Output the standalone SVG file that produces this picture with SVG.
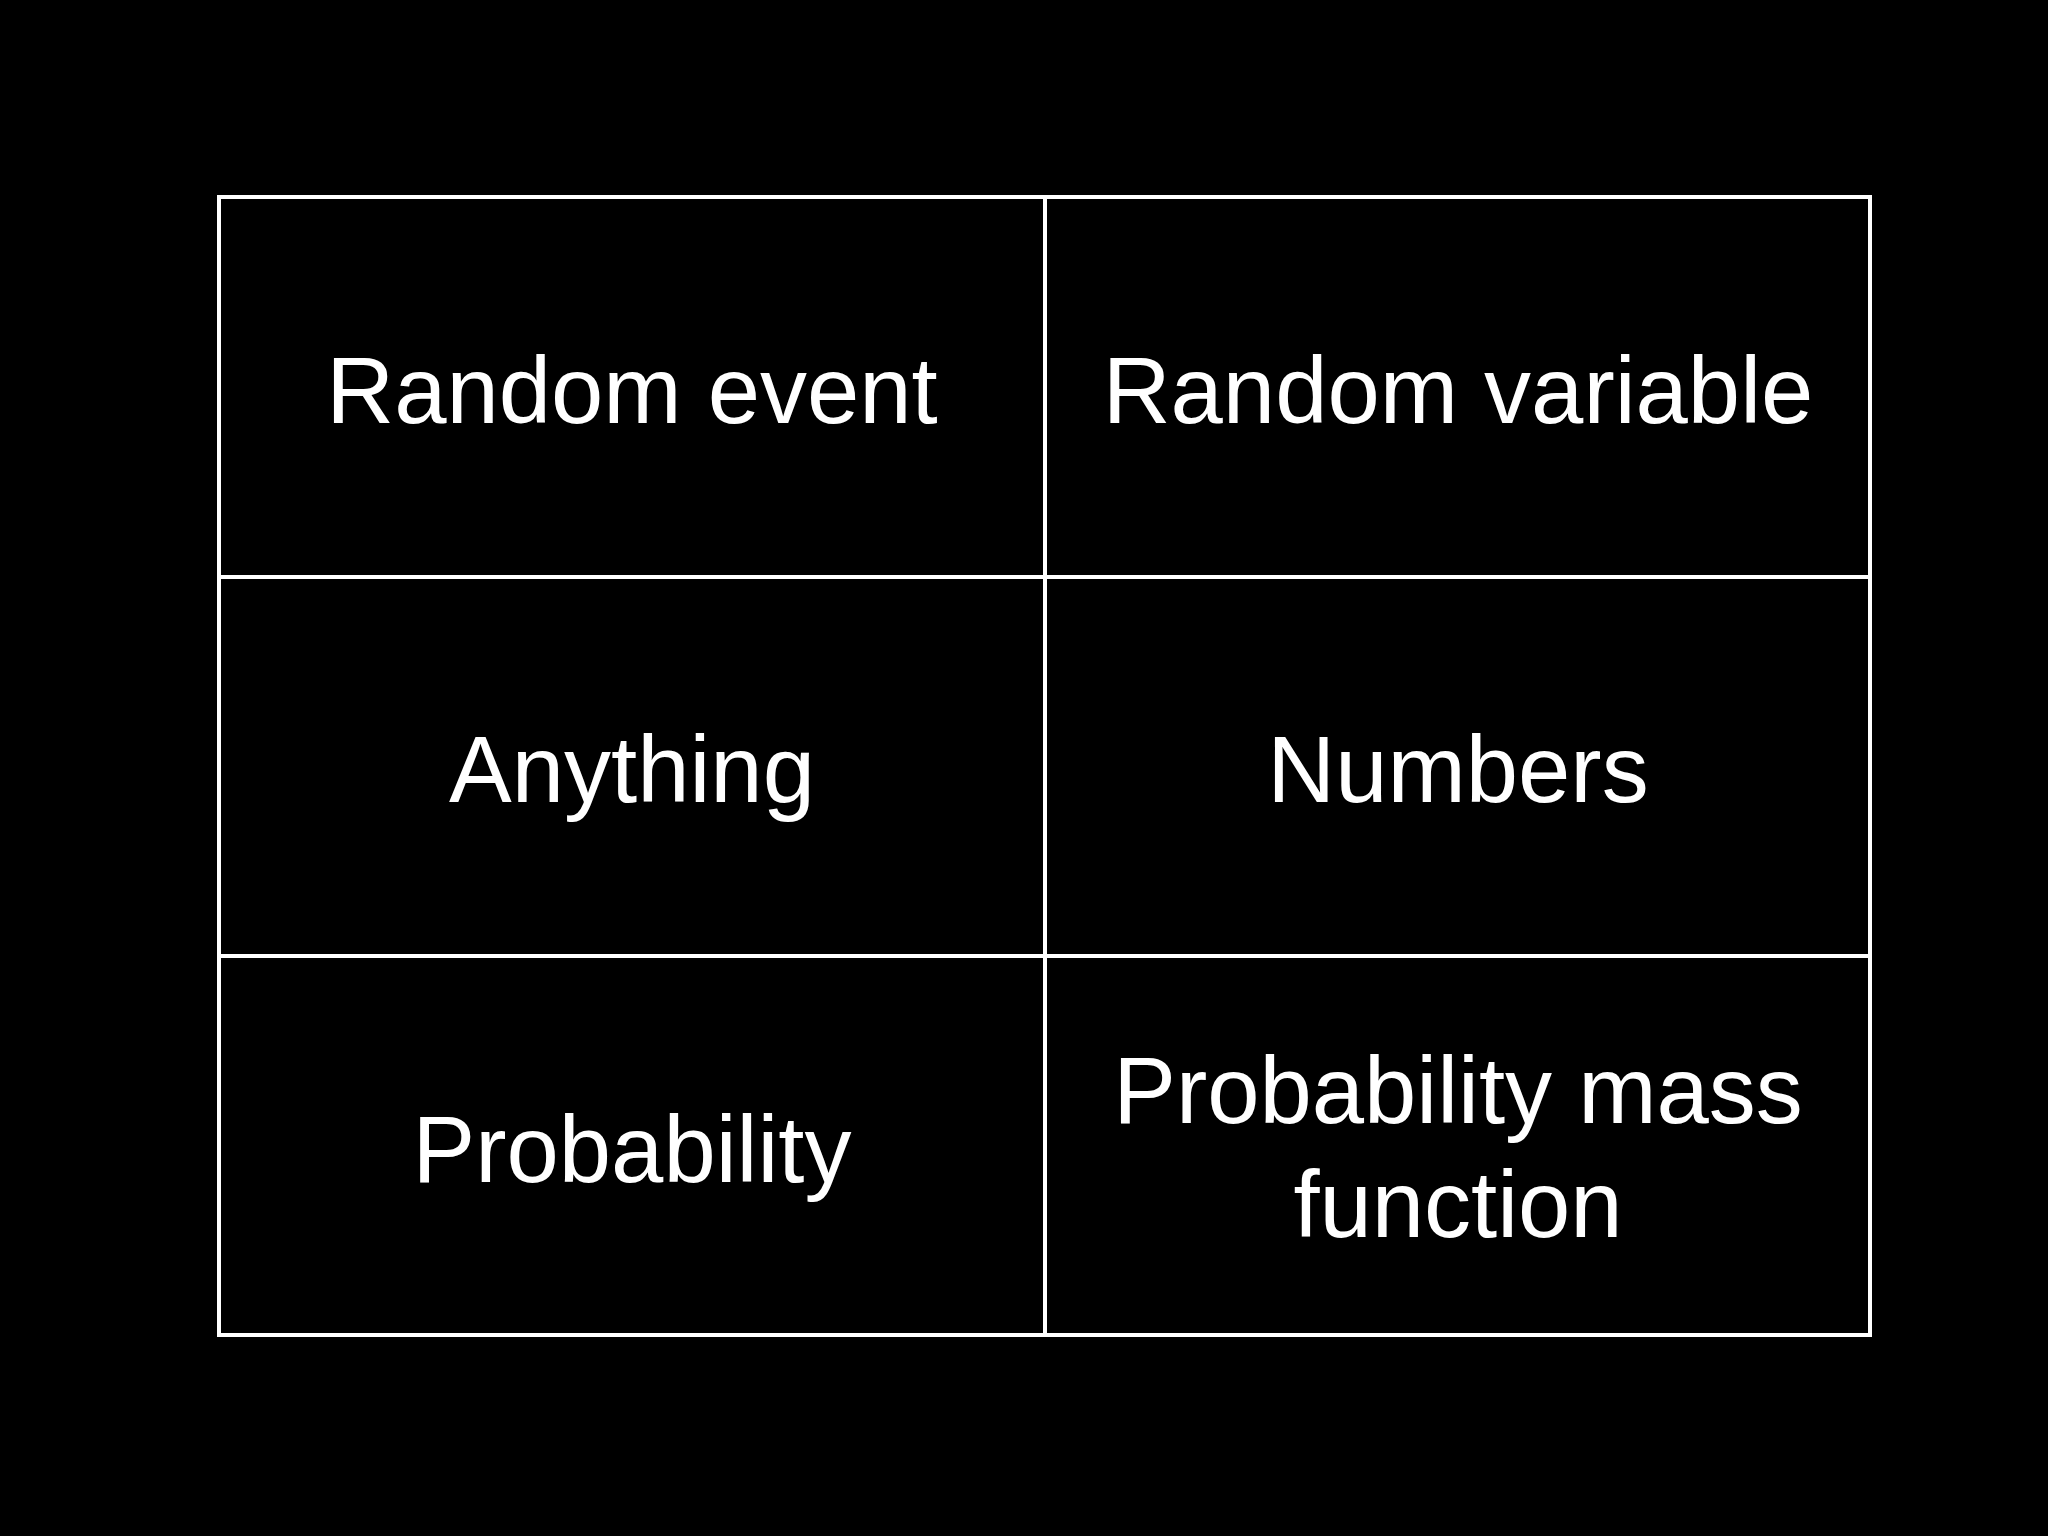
<svg xmlns="http://www.w3.org/2000/svg" width="2048" height="1536" viewBox="0 0 2048 1536">
<style>
.l{stroke:#fff;stroke-width:4;fill:none}
.t{fill:#fff;font-family:"Liberation Sans",Arial,sans-serif;font-size:94px;text-anchor:middle}
</style>
<rect width="2048" height="1536" fill="#000"/>
<g id="grid">
<rect class="l" x="219" y="197" width="1651" height="1138"/>
<line class="l" x1="1045" y1="197" x2="1045" y2="1335"/>
<line class="l" x1="219" y1="577" x2="1870" y2="577"/>
<line class="l" x1="219" y1="956" x2="1870" y2="956"/>
</g>
<g id="c1"><text class="t" x="632" y="423">Random event</text></g>
<g id="c2"><text class="t" x="1458" y="423">Random variable</text></g>
<g id="c3"><text class="t" x="632" y="802">Anything</text></g>
<g id="c4"><text class="t" x="1458" y="802">Numbers</text></g>
<g id="c5"><text class="t" x="632" y="1182">Probability</text></g>
<g id="c6"><text class="t" x="1458" y="1123">Probability mass</text><text class="t" x="1458" y="1237">function</text></g>
</svg>
